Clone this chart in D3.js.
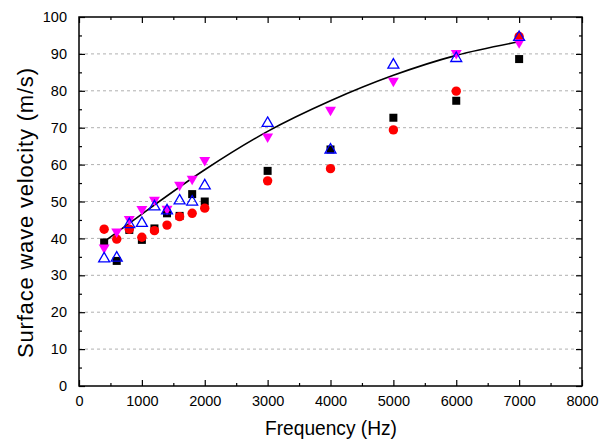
<!DOCTYPE html>
<html>
<head>
<meta charset="utf-8">
<script src="https://cdn.jsdelivr.net/npm/d3@7"></script>
<style>
  body { margin: 0; background: #fff; }
  .tick text { font-family: "Liberation Sans", Arial, sans-serif; font-size: 14.5px; fill: #000; }
  .title { font-family: "Liberation Sans", Arial, sans-serif; fill: #000; }
</style>
</head>
<body>
<script>
// frequencies (Hz) for all four measured series
var freq = [400, 600, 800, 1000, 1200, 1400, 1600, 1800, 2000, 3000, 4000, 5000, 6000, 7000];

var squares   = [38.9, 33.9, 42.3, 39.6, 42.7, 46.8, 46.1, 52.0, 50.0, 58.3, 64.1, 72.7, 77.3, 88.6];
var circles   = [42.5, 39.8, 42.5, 40.3, 42.1, 43.6, 45.9, 46.8, 48.2, 55.6, 58.9, 69.4, 79.9, 94.7];
var downTri   = [37.5, 41.8, 45.2, 47.9, 50.4, 48.0, 54.5, 56.1, 61.2, 67.6, 74.8, 82.7, 90.2, 93.1];
var openTri   = [34.5, 34.7, 43.8, 44.1, 48.6, 47.5, 50.2, 49.9, 54.3, 71.2, 64.0, 87.0, 88.8, 94.5];

// fitted curve
var fitFreq = [400, 1000, 2000, 3000, 4000, 5000, 6000, 7000];
var fitVel  = [39.1, 46.6, 58.6, 69.0, 77.3, 84.2, 89.6, 93.3];

var xTicks = [0, 1000, 2000, 3000, 4000, 5000, 6000, 7000, 8000];
var yTicks = [0, 10, 20, 30, 40, 50, 60, 70, 80, 90, 100];

var margin = {top: 17, right: 25, bottom: 56, left: 79};
var width = 607 - margin.left - margin.right,
    height = 442 - margin.top - margin.bottom;

var svg = d3.select("body").append("svg")
    .attr("width", 607)
    .attr("height", 442);

var g = svg.append("g")
    .attr("transform", "translate(" + margin.left + "," + margin.top + ")");

var x = d3.scaleLinear().domain([0, 8000]).range([0, width]);
var y = d3.scaleLinear().domain([0, 100]).range([height, 0]);

// dashed grid lines
g.selectAll("line.grid")
  .data(yTicks.filter(function(d) { return d > 0 && d < 100; }))
  .enter().append("line")
    .attr("class", "grid")
    .attr("x1", 0).attr("x2", width)
    .attr("y1", function(d) { return y(d); })
    .attr("y2", function(d) { return y(d); })
    .attr("stroke", "#b0b0b0")
    .attr("stroke-width", 1)
    .attr("stroke-dasharray", "3,3");

function axisStyle(sel) {
  sel.select(".domain").remove();
  sel.selectAll(".tick line").attr("stroke", "#000").attr("stroke-width", 1.2);
}

var xMinor = d3.range(500, 8000, 1000);
var yMinor = d3.range(5, 100, 10);

// bottom
g.append("g").attr("transform", "translate(0," + height + ")")
  .call(d3.axisBottom(x).tickValues(xTicks).tickSize(-6).tickPadding(10).tickFormat(d3.format("d")))
  .call(axisStyle);
g.append("g").attr("transform", "translate(0," + height + ")")
  .call(d3.axisBottom(x).tickValues(xMinor).tickSize(-3).tickFormat(""))
  .call(axisStyle);
// top
g.append("g")
  .call(d3.axisTop(x).tickValues(xTicks).tickSize(-6).tickFormat(""))
  .call(axisStyle);
g.append("g")
  .call(d3.axisTop(x).tickValues(xMinor).tickSize(-3).tickFormat(""))
  .call(axisStyle);
// left
g.append("g")
  .call(d3.axisLeft(y).tickValues(yTicks).tickSize(-6).tickPadding(12))
  .call(axisStyle);
g.append("g")
  .call(d3.axisLeft(y).tickValues(yMinor).tickSize(-3).tickFormat(""))
  .call(axisStyle);
// right
g.append("g").attr("transform", "translate(" + width + ",0)")
  .call(d3.axisRight(y).tickValues(yTicks).tickSize(-6).tickFormat(""))
  .call(axisStyle);
g.append("g").attr("transform", "translate(" + width + ",0)")
  .call(d3.axisRight(y).tickValues(yMinor).tickSize(-3).tickFormat(""))
  .call(axisStyle);

g.append("rect")
  .attr("width", width).attr("height", height)
  .attr("fill", "none").attr("stroke", "#000").attr("stroke-width", 1.5);

// fit line
var line = d3.line()
  .x(function(d, i) { return x(fitFreq[i]); })
  .y(function(d) { return y(d); })
  .curve(d3.curveMonotoneX);

g.append("path")
  .datum(fitVel)
  .attr("d", line)
  .attr("fill", "none")
  .attr("stroke", "#000")
  .attr("stroke-width", 1.6);

// markers
g.selectAll("rect.sq")
  .data(squares)
  .enter().append("rect")
    .attr("class", "sq")
    .attr("x", function(d, i) { return x(freq[i]) - 4; })
    .attr("y", function(d) { return y(d) - 4; })
    .attr("width", 8).attr("height", 8)
    .attr("fill", "#000");

g.selectAll("circle")
  .data(circles)
  .enter().append("circle")
    .attr("cx", function(d, i) { return x(freq[i]); })
    .attr("cy", function(d) { return y(d); })
    .attr("r", 4.7)
    .attr("fill", "#ff0000");

var tri = d3.symbol().type(d3.symbolTriangle).size(52);

g.selectAll("path.down")
  .data(downTri)
  .enter().append("path")
    .attr("class", "down")
    .attr("d", tri)
    .attr("transform", function(d, i) { return "translate(" + x(freq[i]) + "," + y(d) + ") rotate(180)"; })
    .attr("fill", "#ff00ff");

g.selectAll("path.up")
  .data(openTri)
  .enter().append("path")
    .attr("class", "up")
    .attr("d", tri)
    .attr("transform", function(d, i) { return "translate(" + x(freq[i]) + "," + y(d) + ")"; })
    .attr("fill", "none")
    .attr("stroke", "#0000ff")
    .attr("stroke-width", 1.3);

// axis titles
svg.append("text")
  .attr("class", "title")
  .attr("x", 331)
  .attr("y", 435)
  .attr("text-anchor", "middle")
  .attr("font-size", "20px")
  .attr("textLength", 132)
  .attr("lengthAdjust", "spacingAndGlyphs")
  .text("Frequency (Hz)");

svg.append("text")
  .attr("class", "title")
  .attr("transform", "translate(33,213) rotate(-90)")
  .attr("text-anchor", "middle")
  .attr("font-size", "22px")
  .attr("textLength", 290)
  .attr("lengthAdjust", "spacing")
  .text("Surface wave velocity (m/s)");
</script>
</body>
</html>
